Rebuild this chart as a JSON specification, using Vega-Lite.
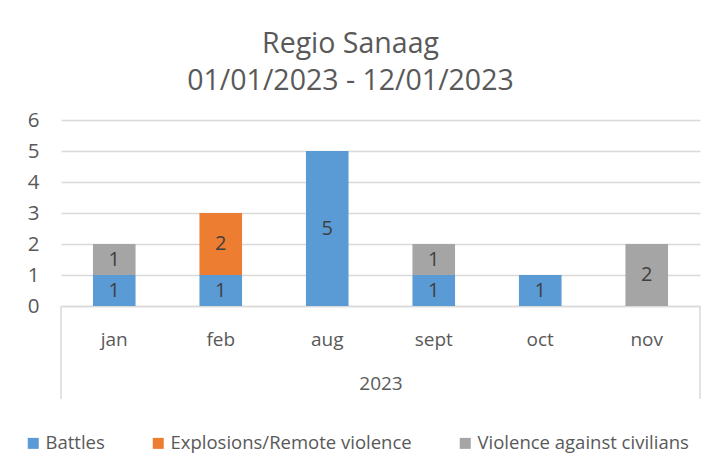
{
  "$schema": "https://vega.github.io/schema/vega-lite/v6.json",
  "autosize": {"type": "none"},
  "width": 639,
  "height": 186,
  "padding": {"left": 61, "top": 120, "right": 8, "bottom": 155},
  "background": "white",
  "config": {
    "font": "Open Sans",
    "view": {"stroke": null}
  },
  "title": {
    "text": ["Regio Sanaag", "01/01/2023 - 12/01/2023"],
    "fontSize": 28.5,
    "fontWeight": "normal",
    "color": "#595959",
    "anchor": "middle",
    "lineHeight": 37,
    "dx": -30,
    "offset": 15
  },
  "data": {
    "values": [
      {"month": "jan", "type": "Battles", "count": 1},
      {"month": "jan", "type": "Violence against civilians", "count": 1},
      {"month": "feb", "type": "Battles", "count": 1},
      {"month": "feb", "type": "Explosions/Remote violence", "count": 2},
      {"month": "aug", "type": "Battles", "count": 5},
      {"month": "sept", "type": "Battles", "count": 1},
      {"month": "sept", "type": "Violence against civilians", "count": 1},
      {"month": "oct", "type": "Battles", "count": 1},
      {"month": "nov", "type": "Violence against civilians", "count": 2}
    ]
  },
  "transform": [
    {"stack": "count", "groupby": ["month"], "sort": [{"field": "type", "order": "ascending"}], "as": ["y0", "y1"]},
    {"calculate": "(datum.y0 + datum.y1) / 2", "as": "ymid"}
  ],
  "layer": [
    {
      "mark": {"type": "bar", "width": {"band": 0.4}},
      "encoding": {
        "x": {
          "field": "month", "type": "nominal",
          "sort": ["jan", "feb", "aug", "sept", "oct", "nov"],
          "scale": {"paddingInner": 0, "paddingOuter": 0},
          "axis": {
            "title": "2023", "labelAngle": 0, "ticks": false,
            "domainColor": "#D9D9D9", "domainWidth": 1.5,
            "labelFontSize": 19, "labelColor": "#595959", "labelPadding": 24,
            "titleFontSize": 19, "titleFontWeight": "normal", "titleColor": "#595959", "titlePadding": 25
          }
        },
        "y": {
          "field": "y0", "type": "quantitative",
          "scale": {"domain": [0, 6], "nice": false},
          "axis": {
            "title": null, "values": [0, 1, 2, 3, 4, 5, 6], "domain": false, "ticks": false,
            "labelOverlap": false,
            "gridColor": "#D9D9D9", "gridWidth": 1.5,
            "labelFontSize": 20.5, "labelColor": "#595959", "labelPadding": 22
          }
        },
        "y2": {"field": "y1"},
        "color": {
          "field": "type", "type": "nominal",
          "scale": {
            "domain": ["Battles", "Explosions/Remote violence", "Violence against civilians"],
            "range": ["#5B9BD5", "#ED7D31", "#A5A5A5"]
          },
          "legend": {
            "title": null, "orient": "none", "direction": "horizontal",
            "legendX": -37, "legendY": 314,
            "symbolType": "square", "symbolSize": 121, "symbolStrokeWidth": 0,
            "labelFontSize": 18.5, "labelColor": "#595959", "labelOffset": 3, "labelLimit": 0,
            "columnPadding": 44
          }
        }
      }
    },
    {
      "mark": {"type": "text", "fontSize": 20, "color": "#404040"},
      "encoding": {
        "x": {"field": "month", "type": "nominal", "sort": ["jan", "feb", "aug", "sept", "oct", "nov"]},
        "y": {
          "field": "ymid", "type": "quantitative",
          "axis": {
            "title": null, "values": [0, 1, 2, 3, 4, 5, 6], "domain": false, "ticks": false,
            "labelOverlap": false,
            "gridColor": "#D9D9D9", "gridWidth": 1.5,
            "labelFontSize": 20.5, "labelColor": "#595959", "labelPadding": 22
          }
        },
        "text": {"field": "count", "type": "quantitative"}
      }
    },
    {
      "data": {"values": [{}]},
      "mark": {"type": "rule", "color": "#D9D9D9", "strokeWidth": 1.5},
      "encoding": {
        "x": {"datum": "jan", "type": "nominal", "bandPosition": 0},
        "y": {
          "datum": 0, "type": "quantitative",
          "axis": {
            "title": null, "values": [0, 1, 2, 3, 4, 5, 6], "domain": false, "ticks": false,
            "labelOverlap": false,
            "gridColor": "#D9D9D9", "gridWidth": 1.5,
            "labelFontSize": 20.5, "labelColor": "#595959", "labelPadding": 22
          }
        },
        "y2": {"datum": -3}
      }
    },
    {
      "data": {"values": [{}]},
      "mark": {"type": "rule", "color": "#D9D9D9", "strokeWidth": 1.5},
      "encoding": {
        "x": {"datum": "nov", "type": "nominal", "bandPosition": 1},
        "y": {
          "datum": 0, "type": "quantitative",
          "axis": {
            "title": null, "values": [0, 1, 2, 3, 4, 5, 6], "domain": false, "ticks": false,
            "labelOverlap": false,
            "gridColor": "#D9D9D9", "gridWidth": 1.5,
            "labelFontSize": 20.5, "labelColor": "#595959", "labelPadding": 22
          }
        },
        "y2": {"datum": -3}
      }
    }
  ]
}
